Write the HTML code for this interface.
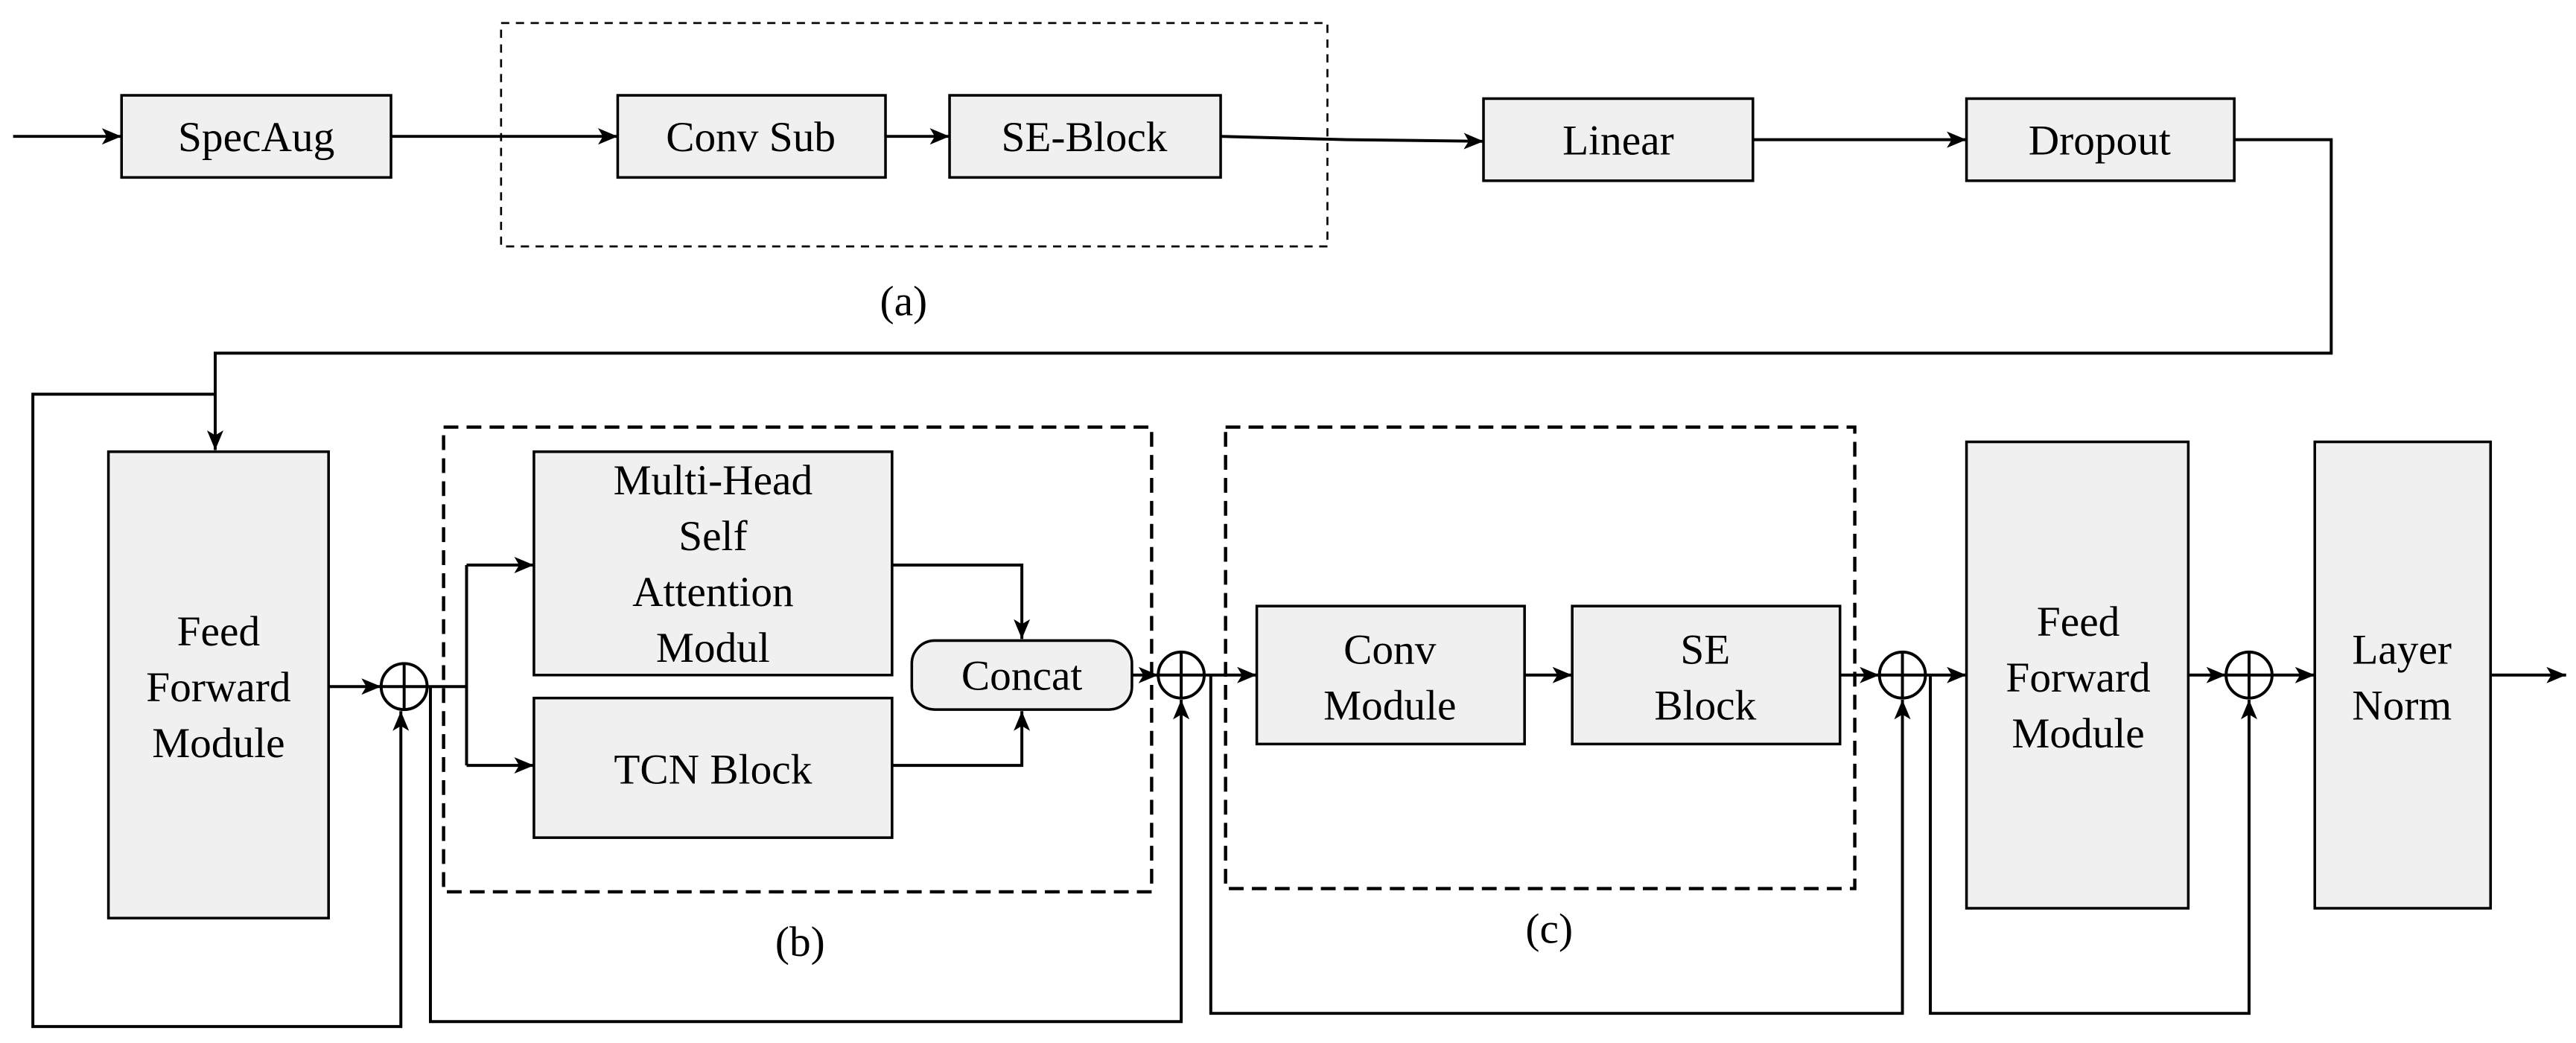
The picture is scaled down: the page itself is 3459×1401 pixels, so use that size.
<!DOCTYPE html>
<html><head><meta charset="utf-8"><style>
html,body{margin:0;padding:0;background:#fff;}
svg{display:block;}
text{font-family:"Liberation Serif",serif;font-size:26px;fill:#000;text-anchor:middle;}
.b{fill:#f0f0f0;stroke:#000;stroke-width:1.6;}
.l{fill:none;stroke:#000;stroke-width:1.8;}
.d1{fill:none;stroke:#000;stroke-width:1.2;stroke-dasharray:5,4;}
.d2{fill:none;stroke:#000;stroke-width:2;stroke-dasharray:9,5;}
</style></head><body>
<svg width="3459" height="1401" viewBox="0 0 1568 635" xmlns="http://www.w3.org/2000/svg">
<defs><marker id="a" markerWidth="12" markerHeight="10" refX="12" refY="5" orient="auto" markerUnits="userSpaceOnUse"><path d="M0,0 L12,5 L0,10 L3,5 z" fill="#000"/></marker></defs>
<rect class="d1" x="305" y="14" width="503" height="136"/>
<line class="l" x1="8" y1="83" x2="74" y2="83" marker-end="url(#a)"/>
<rect class="b" x="74" y="58" width="164" height="50"/><text x="156" y="92">SpecAug</text>
<line class="l" x1="238" y1="83" x2="376" y2="83" marker-end="url(#a)"/>
<rect class="b" x="376" y="58" width="163" height="50"/><text x="457" y="92">Conv Sub</text>
<line class="l" x1="539" y1="83" x2="578" y2="83" marker-end="url(#a)"/>
<rect class="b" x="578" y="58" width="165" height="50"/><text x="660" y="92">SE-Block</text>
<polyline class="l" points="743,83 820,85 903,86" marker-end="url(#a)"/>
<rect class="b" x="903" y="60" width="164" height="50"/><text x="985" y="94">Linear</text>
<line class="l" x1="1067" y1="85" x2="1197" y2="85" marker-end="url(#a)"/>
<rect class="b" x="1197" y="60" width="163" height="50"/><text x="1278" y="94">Dropout</text>
<text x="550" y="192">(a)</text>
<polyline class="l" points="1360,85 1419,85 1419,215 131,215 131,274" marker-end="url(#a)"/>
<rect class="b" x="66" y="275" width="134" height="284"/>
<text x="133" y="393">Feed</text><text x="133" y="427">Forward</text><text x="133" y="461">Module</text>
<polyline class="l" points="131,240 20,240 20,625 244,625 244,433" marker-end="url(#a)"/>
<line class="l" x1="200" y1="418" x2="232" y2="418" marker-end="url(#a)"/>
<circle class="l" cx="246" cy="418" r="14"/><line class="l" x1="232" y1="418" x2="260" y2="418"/><line class="l" x1="246" y1="404" x2="246" y2="432"/>
<rect class="d2" x="270" y="260" width="431" height="283"/>
<polyline class="l" points="260,418 284,418"/>
<line class="l" x1="284" y1="344" x2="284" y2="466"/>
<line class="l" x1="284" y1="344" x2="325" y2="344" marker-end="url(#a)"/>
<line class="l" x1="284" y1="466" x2="325" y2="466" marker-end="url(#a)"/>
<rect class="b" x="325" y="275" width="218" height="136"/>
<text x="434" y="301">Multi-Head</text><text x="434" y="335">Self</text><text x="434" y="369">Attention</text><text x="434" y="403">Modul</text>
<rect class="b" x="325" y="425" width="218" height="85"/><text x="434" y="477">TCN Block</text>
<polyline class="l" points="543,344 622,344 622,389" marker-end="url(#a)"/>
<polyline class="l" points="543,466 622,466 622,433" marker-end="url(#a)"/>
<rect class="b" x="555" y="390" width="134" height="42" rx="14"/><text x="622" y="420">Concat</text>
<line class="l" x1="689" y1="411" x2="705" y2="411" marker-end="url(#a)"/>
<circle class="l" cx="719" cy="411" r="14"/><line class="l" x1="705" y1="411" x2="733" y2="411"/><line class="l" x1="719" y1="397" x2="719" y2="425"/>
<polyline class="l" points="262,418 262,622 719,622 719,426" marker-end="url(#a)"/>
<text x="487" y="582">(b)</text>
<rect class="d2" x="746" y="260" width="383" height="281"/>
<line class="l" x1="733" y1="411" x2="765" y2="411" marker-end="url(#a)"/>
<rect class="b" x="765" y="369" width="163" height="84"/><text x="846" y="404">Conv</text><text x="846" y="438">Module</text>
<line class="l" x1="928" y1="411" x2="957" y2="411" marker-end="url(#a)"/>
<rect class="b" x="957" y="369" width="163" height="84"/><text x="1038" y="404">SE</text><text x="1038" y="438">Block</text>
<line class="l" x1="1120" y1="411" x2="1144" y2="411" marker-end="url(#a)"/>
<circle class="l" cx="1158" cy="411" r="14"/><line class="l" x1="1144" y1="411" x2="1172" y2="411"/><line class="l" x1="1158" y1="397" x2="1158" y2="425"/>
<polyline class="l" points="737,411 737,617 1158,617 1158,426" marker-end="url(#a)"/>
<text x="943" y="574">(c)</text>
<line class="l" x1="1172" y1="411" x2="1197" y2="411" marker-end="url(#a)"/>
<rect class="b" x="1197" y="269" width="135" height="284"/>
<text x="1265" y="387">Feed</text><text x="1265" y="421">Forward</text><text x="1265" y="455">Module</text>
<line class="l" x1="1332" y1="411" x2="1355" y2="411" marker-end="url(#a)"/>
<circle class="l" cx="1369" cy="411" r="14"/><line class="l" x1="1355" y1="411" x2="1383" y2="411"/><line class="l" x1="1369" y1="397" x2="1369" y2="425"/>
<polyline class="l" points="1175,411 1175,617 1369,617 1369,426" marker-end="url(#a)"/>
<line class="l" x1="1383" y1="411" x2="1409" y2="411" marker-end="url(#a)"/>
<rect class="b" x="1409" y="269" width="107" height="284"/>
<text x="1462" y="404">Layer</text><text x="1462" y="438">Norm</text>
<line class="l" x1="1516" y1="411" x2="1562" y2="411" marker-end="url(#a)"/>
</svg>
</body></html>
